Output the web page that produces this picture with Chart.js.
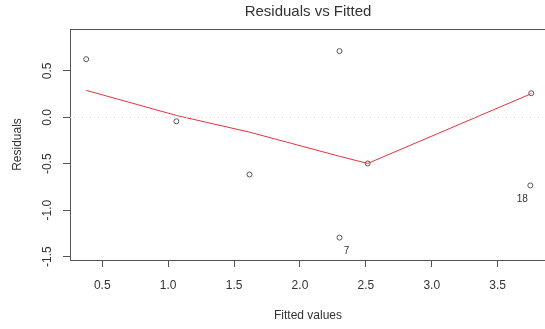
<!DOCTYPE html>
<html>
<head>
<meta charset="utf-8">
<script src="https://cdn.jsdelivr.net/npm/chart.js@4/dist/chart.umd.min.js"></script>
<style>
  body { margin: 0; overflow: hidden; background: #fff; }
  #box { width: 616px; height: 329px; }
</style>
</head>
<body>
<div id="box"><canvas id="myChart"></canvas></div>
<script>
// fitted values and residuals
var fitted = [0.378, 1.062, 1.617, 2.300, 2.300, 2.514, 3.748, 3.755];
var resid = [0.626, -0.043, -0.616, 0.713, -1.296, -0.497, -0.734, 0.259];
// red smoother
var smoothX = [0.378, 1.062, 1.617, 2.300, 2.514, 3.748, 3.755];
var smoothY = [0.29, 0.02, -0.16, -0.42, -0.497, 0.25, 0.26];
// labelled observations (index into fitted/resid)
var idIndex = [4, 6];
var idText = ["7", "18"];
var xTicks = [0.5, 1.0, 1.5, 2.0, 2.5, 3.0, 3.5];
var yTicks = [-1.5, -1.0, -0.5, 0.0, 0.5];
var xMin = 0.255, xMax = 3.867;
var yMin = -1.537, yMax = 0.951;

var pts = [];
for (var i = 0; i < fitted.length; i++) pts.push({ x: fitted[i], y: resid[i] });
var smooth = [];
for (var i = 0; i < smoothX.length; i++) smooth.push({ x: smoothX[i], y: smoothY[i] });

var textCol = "#333";
var axisCol = "#555";

// top edge of the box and the id labels
var boxAndLabels = {
  id: "boxAndLabels",
  afterDatasetsDraw: function(chart) {
    var ctx = chart.ctx, a = chart.chartArea;
    ctx.save();
    ctx.strokeStyle = axisCol;
    ctx.lineWidth = 1;
    ctx.beginPath();
    ctx.moveTo(a.left, a.top + 0.5);
    ctx.lineTo(a.right, a.top + 0.5);
    ctx.stroke();
    ctx.fillStyle = textCol;
    ctx.font = "10px 'Liberation Sans', Arial, sans-serif";
    ctx.textAlign = "center";
    ctx.textBaseline = "middle";
    var xs = chart.scales.x, ys = chart.scales.y;
    for (var k = 0; k < idIndex.length; k++) {
      var j = idIndex[k];
      var px = xs.getPixelForValue(fitted[j]);
      var py = ys.getPixelForValue(resid[j]);
      var dx = fitted[j] < 3 ? 7 : -8;
      ctx.fillText(idText[k], px + dx, py + 14);
    }
    ctx.restore();
  }
};

var font12 = { family: "'Liberation Sans', Arial, sans-serif", size: 12 };

var chart = new Chart(document.getElementById("myChart"), {
  type: "scatter",
  data: {
    datasets: [
      {
        data: [{ x: xMin, y: 0 }, { x: xMax, y: 0 }],
        showLine: true,
        borderColor: "#d8d8d8",
        borderWidth: 1,
        borderDash: [1, 3],
        pointRadius: 0
      },
      {
        data: smooth,
        showLine: true,
        borderColor: "#e8323a",
        borderWidth: 1,
        pointRadius: 0
      },
      {
        data: pts,
        pointStyle: "circle",
        pointRadius: 2.5,
        pointBorderColor: "#555",
        pointBackgroundColor: "rgba(0,0,0,0)",
        pointBorderWidth: 1
      }
    ]
  },
  options: {
    responsive: true,
    maintainAspectRatio: false,
    animation: false,
    layout: { padding: 0 },
    plugins: {
      legend: { display: false },
      tooltip: { enabled: false },
      title: {
        display: true,
        text: "Residuals vs Fitted",
        color: textCol,
        font: { family: "'Liberation Sans', Arial, sans-serif", size: 15, weight: "normal" },
        padding: { top: 3, bottom: 8 }
      }
    },
    scales: {
      x: {
        type: "linear",
        min: xMin,
        max: xMax,
        afterBuildTicks: function(s) { s.ticks = xTicks.map(function(v) { return { value: v }; }); },
        afterFit: function(s) { s.height = 69; },
        ticks: {
          color: textCol,
          font: font12,
          padding: 11,
          maxRotation: 0,
          callback: function(v) { return v.toFixed(1); }
        },
        grid: { display: true, drawOnChartArea: false, drawTicks: true, tickLength: 7, color: axisCol },
        border: { display: true, color: axisCol, width: 1 },
        title: { display: true, text: "Fitted values", color: textCol, font: font12, padding: { top: 0, bottom: 6 } }
      },
      y: {
        type: "linear",
        min: yMin,
        max: yMax,
        afterBuildTicks: function(s) { s.ticks = yTicks.map(function(v) { return { value: v }; }); },
        afterFit: function(s) { s.width = 70; },
        ticks: {
          color: textCol,
          font: font12,
          padding: 5,
          minRotation: 90,
          maxRotation: 90,
          crossAlign: "center",
          callback: function(v) { return v.toFixed(1); }
        },
        grid: { display: true, drawOnChartArea: false, drawTicks: true, tickLength: 7, color: axisCol },
        border: { display: true, color: axisCol, width: 1 },
        title: { display: true, text: "Residuals", color: textCol, font: font12, padding: { top: 10, bottom: 0 } }
      },
      y2: {
        type: "linear",
        position: "right",
        display: true,
        min: yMin,
        max: yMax,
        afterFit: function(s) { s.width = 70; },
        ticks: { display: false },
        grid: { display: false },
        border: { display: false }
      }
    }
  },
  plugins: [boxAndLabels]
});
</script>
</body>
</html>
